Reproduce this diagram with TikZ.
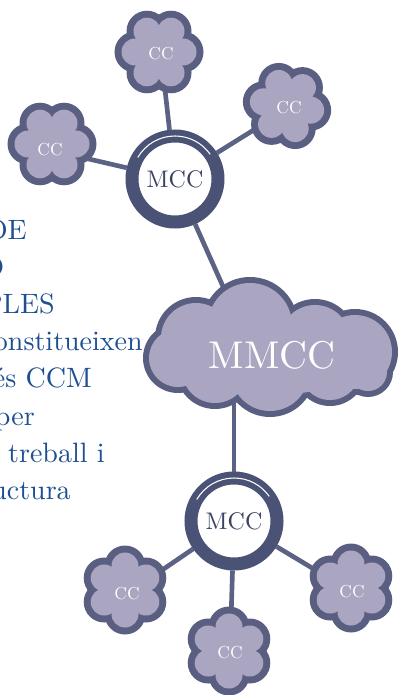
\documentclass[tikz,border=0pt]{standalone}
\usepackage{fontspec}
\setmainfont{lmroman10-regular.otf}
\usetikzlibrary{backgrounds}

\definecolor{textblue}{RGB}{29,79,145}
\definecolor{ringcol}{RGB}{74,82,117}
\definecolor{linkcol}{RGB}{92,98,132}
\definecolor{puffline}{RGB}{90,95,130}
\definecolor{pufffill}{RGB}{170,166,194}
\definecolor{mcctext}{RGB}{60,66,98}

\tikzset{
    ring/.style={circle, draw=ringcol, line width=9.75pt, fill=white, minimum size=64.5pt,
            inner sep=0pt, text=mcctext, font=\fontsize{18}{18}\selectfont},
    cclabel/.style={circle, minimum size=45pt, inner sep=0pt, text=white,
            font=\fontsize{13}{13}\selectfont},
    mmcclabel/.style={inner sep=0pt, text=white, font=\fontsize{29}{29}\selectfont},
    sidetext/.style={anchor=base east, inner sep=0pt, text=textblue,
            font=\fontsize{21}{25}\selectfont},
    link/.style={draw=linkcol, line width=3.5pt},
    ringhl/.style={draw=white, line width=0.8pt},
}

% six-lobed puff at (#1,#2), turned by #3 degrees
\newcommand{\puff}[3]{%
    \fill[puffline] (#1,#2) circle [radius=28]
    \foreach \a in {0,60,...,300} {(#1,#2) ++({\a+#3}:24) circle [radius=20.5]};
    \fill[pufffill] (#1,#2) circle [radius=25]
    \foreach \a in {0,60,...,300} {(#1,#2) ++({\a+#3}:24) circle [radius=13.5]};
}

\begin{document}
\begin{tikzpicture}[x=0.75pt, y=-0.75pt]
    \useasboundingbox (0,0) rectangle (402,695);
    \clip (0,0) rectangle (402,695);

    % Draw the text block cut at the left edge
    \node[sidetext] (t1) at (27,239) {DE};
    \node[sidetext] (t2) at (4.5,276) {O};
    \node[sidetext] (t3) at (55,313) {PLES};
    \node[sidetext] (t4) at (143,350) {onstitueixen};
    \node[sidetext] (t5) at (92,387) {és CCM};
    \node[sidetext] (t6) at (35,425) {per};
    \node[sidetext] (t7) at (105,462) {a treball i};
    \node[sidetext] (t8) at (71,499) {uctura};

    % Draw the big cloud
    \fill[puffline] \foreach \x/\y/\r in {250/325/45, 196/338/38, 178/358/32, 315/340/38,
            355/352/40, 270/372/42, 215/370/36, 330/370/33, 368/372/22} {
            (\x,\y) circle [radius=\r+3]
        };
    \fill[pufffill] (270,355) ellipse [x radius=100, y radius=40]
    \foreach \x/\y/\r in {250/325/45, 196/338/38, 178/358/32, 315/340/38,
            355/352/40, 270/372/42, 215/370/36, 330/370/33, 368/372/22} {
            (\x,\y) circle [radius=\r-3]
        };
    \node[mmcclabel] (mmcc) at (272,355) {MMCC};
    \coordinate (mmccup) at (250,347);
    \coordinate (mmccdown) at (234,380);

    % Draw the small puffs
    \puff{159}{52}{0}
    \puff{52}{144}{0}
    \puff{287}{106}{10}
    \puff{125}{590}{30}
    \puff{229}{651}{30}
    \puff{351}{588}{30}
    \node[cclabel] (cctop) at (161,54) {CC};
    \node[cclabel] (ccleft) at (50,150) {CC};
    \node[cclabel] (ccright) at (289,108) {CC};
    \node[cclabel] (ccbl) at (127,594) {CC};
    \node[cclabel] (ccbm) at (230,653) {CC};
    \node[cclabel] (ccbr) at (352,592) {CC};

    % Draw the two rings
    \node[ring] (mcca) at (175,179) {MCC};
    \node[ring] (mccb) at (234,521) {MCC};
    \draw[ringhl] (mcca.center) ++(-150:43) arc [start angle=-150, end angle=-35, radius=43];
    \draw[ringhl] (mccb.center) ++(-150:43) arc [start angle=-150, end angle=-35, radius=43];

    % Links behind everything
    \begin{pgfonlayer}{background}
        \draw[link] (cctop) -- (mcca);
        \draw[link] (ccleft) -- (mcca);
        \draw[link] (ccright) -- (mcca);
        \draw[link] (mcca) -- (mmccup);
        \draw[link] (mmccdown) -- (mccb);
        \draw[link] (mccb) -- (ccbl);
        \draw[link] (mccb) -- (ccbm);
        \draw[link] (mccb) -- (ccbr);
    \end{pgfonlayer}
\end{tikzpicture}
\end{document}
